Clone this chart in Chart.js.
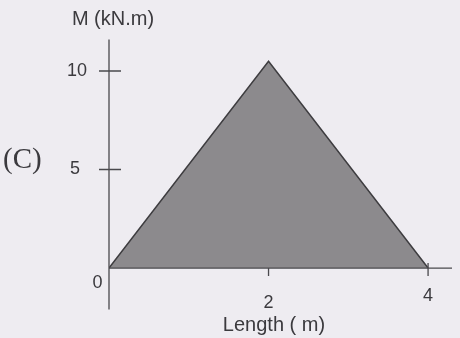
<!DOCTYPE html>
<html>
<head>
<meta charset="utf-8">
<script src="https://cdn.jsdelivr.net/npm/chart.js@4"></script>
<style>
  html, body { margin: 0; padding: 0; background: #eeecf1; }
  #wrap { width: 460px; height: 338px; }
</style>
</head>
<body>
<div id="wrap"><canvas id="myChart" width="460" height="338"></canvas></div>
<script>
// bending moment diagram values
var lengths = [0, 2, 4];
var moments = [0, 10.5, 0];
var xTicks = [2, 4];
var yTicks = [0, 5, 10];

var points = [];
lengths.forEach((l, i) => {
    points.push({ x: l, y: moments[i] });
});

const ink = "#3b3a3e";

const ctx = document.getElementById("myChart").getContext("2d");
const myChart = new Chart(ctx, {
    type: "line",
    plugins: [
        {
            beforeDraw: drawBackground,
            afterDraw: drawAxes,
        },
    ],
    data: {
        datasets: [
            {
                data: points,
                borderColor: "#3e3d40",
                borderWidth: 1.5,
                backgroundColor: "#8c8a8d",
                fill: "origin",
                pointRadius: 0,
                tension: 0,
            },
        ],
    },
    options: {
        responsive: false,
        animation: false,
        layout: {
            padding: { left: 109, right: 8, top: 39.5, bottom: 28.6 },
        },
        plugins: {
            legend: { display: false },
            tooltip: { enabled: false },
        },
        scales: {
            x: { type: "linear", min: 0, max: 4.3, display: false },
            y: { type: "linear", min: -2.1, max: 11.6, display: false },
        },
    },
});

function drawBackground(chart) {
    var c = chart.ctx;
    c.save();
    c.fillStyle = "#eeecf1";
    c.fillRect(0, 0, chart.width, chart.height);
    c.restore();
}

function drawAxes(chart) {
    var c = chart.ctx;
    var xs = chart.scales.x;
    var ys = chart.scales.y;
    var x0 = xs.getPixelForValue(0);
    var y0 = ys.getPixelForValue(0);

    c.save();
    c.strokeStyle = "#4a494d";
    c.lineWidth = 1.3;

    // y axis
    c.beginPath();
    c.moveTo(x0, ys.top);
    c.lineTo(x0, ys.bottom);
    // x axis
    c.moveTo(x0, y0);
    c.lineTo(xs.right, y0);
    c.stroke();

    // y ticks crossing the axis
    c.beginPath();
    [5, 10].forEach((v) => {
        var py = ys.getPixelForValue(v);
        c.moveTo(x0 - 10, py);
        c.lineTo(x0 + 12, py);
    });
    // x ticks below the axis
    xTicks.forEach((v) => {
        var px = xs.getPixelForValue(v);
        c.moveTo(px, y0 - (v === 4 ? 5 : 0));
        c.lineTo(px, y0 + 8);
    });
    c.stroke();

    c.fillStyle = ink;
    c.font = "18px 'Liberation Sans', Arial, sans-serif";
    c.textBaseline = "middle";

    // y tick labels
    c.textAlign = "right";
    c.fillText("10", 87, ys.getPixelForValue(10));
    c.fillText("5", 80, ys.getPixelForValue(5));
    c.textAlign = "center";
    c.fillText("0", 97.5, y0 + 15);

    // x tick labels
    c.fillText("2", xs.getPixelForValue(2), y0 + 35);
    c.fillText("4", xs.getPixelForValue(4), y0 + 28);

    // axis titles
    c.font = "20px 'Liberation Sans', Arial, sans-serif";
    c.fillText("M (kN.m)", 113, 19);
    c.fillText("Length ( m)", 274, y0 + 57);

    // part label
    c.font = "29px 'Liberation Serif', 'Times New Roman', serif";
    c.textAlign = "left";
    c.fillText("(C)", 3, 160);
    c.restore();
}
</script>
</body>
</html>
